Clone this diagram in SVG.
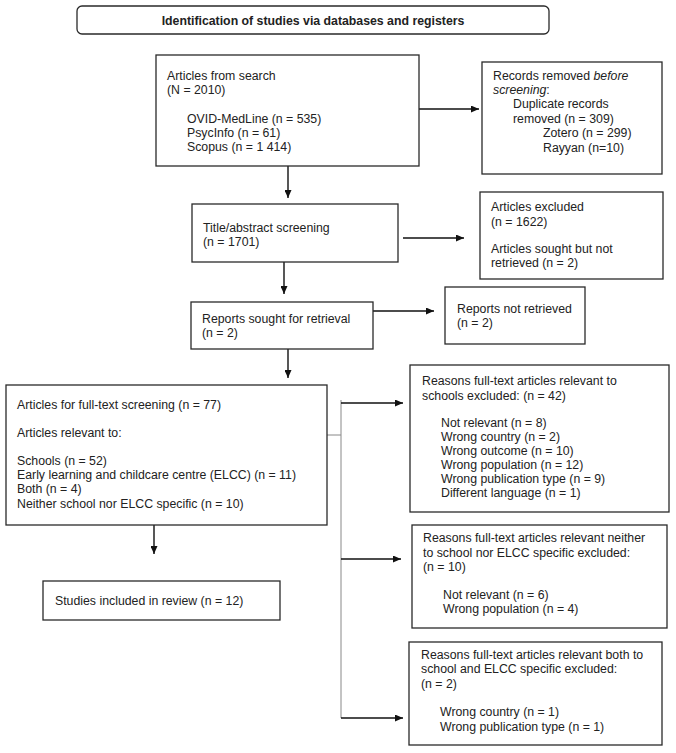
<svg xmlns="http://www.w3.org/2000/svg" width="676" height="753" viewBox="0 0 676 753">
<style>
  .box { fill: #ffffff; stroke: #2a2a2a; stroke-width: 1.3; }
  .t { font-family: "Liberation Sans", Arial, sans-serif; font-size: 12.3px; fill: #222; }
  .b { font-weight: bold; }
  .i { font-style: italic; }
  .con { stroke: #111; stroke-width: 1.4; fill: none; }
  .thin { stroke: #888; stroke-width: 1; fill: none; }
</style>
<defs>
  <marker id="ah" markerWidth="8" markerHeight="7" refX="8" refY="3.5" orient="auto" markerUnits="userSpaceOnUse">
    <path d="M0,0 L8,3.5 L0,7 z" fill="#111"/>
  </marker>
</defs>
<rect width="676" height="753" fill="#ffffff"/>

<g id="connectors">
  <path class="con" d="M419,109 H479" marker-end="url(#ah)"/>
  <path class="con" d="M288,166 V198" marker-end="url(#ah)"/>
  <path class="con" d="M403,238 H464" marker-end="url(#ah)"/>
  <path class="con" d="M284,262 V294" marker-end="url(#ah)"/>
  <path class="con" d="M373,311 H434" marker-end="url(#ah)"/>
  <path class="con" d="M288,349 V378" marker-end="url(#ah)"/>
  <path class="thin" d="M327,435 H341"/>
  <path class="thin" d="M341,400 V718"/>
  <path class="con" d="M341,403 H403" marker-end="url(#ah)"/>
  <path class="con" d="M341,559 H401" marker-end="url(#ah)"/>
  <path class="con" d="M341,718 H403" marker-end="url(#ah)"/>
  <path class="con" d="M154,525 V554" marker-end="url(#ah)"/>
</g>

<g id="title">
  <rect class="box" x="77" y="6" width="472" height="28" rx="5"/>
  <text class="t b" x="313" y="25" text-anchor="middle">Identification of studies via databases and registers</text>
</g>

<g id="search">
  <rect class="box" x="156" y="55" width="263" height="111"/>
  <text class="t" x="167" y="80">Articles from search</text>
  <text class="t" x="167" y="94">(N = 2010)</text>
  <text class="t" x="187" y="123">OVID-MedLine (n = 535)</text>
  <text class="t" x="187" y="137">PsycInfo (n = 61)</text>
  <text class="t" x="187" y="151">Scopus (n = 1 414)</text>
</g>

<g id="removed">
  <rect class="box" x="482" y="62" width="180" height="112"/>
  <text class="t" x="493" y="80">Records removed <tspan class="i">before</tspan></text>
  <text class="t" x="493" y="94"><tspan class="i">screening</tspan>:</text>
  <text class="t" x="513" y="108">Duplicate records</text>
  <text class="t" x="513" y="123">removed (n = 309)</text>
  <text class="t" x="543" y="137">Zotero (n = 299)</text>
  <text class="t" x="543" y="152">Rayyan (n=10)</text>
</g>

<g id="screening">
  <rect class="box" x="192" y="204" width="206" height="58"/>
  <text class="t" x="203" y="232">Title/abstract screening</text>
  <text class="t" x="203" y="246">(n = 1701)</text>
</g>

<g id="excluded">
  <rect class="box" x="480" y="192" width="183" height="87"/>
  <text class="t" x="491" y="211">Articles excluded</text>
  <text class="t" x="491" y="226">(n = 1622)</text>
  <text class="t" x="491" y="253">Articles sought but not</text>
  <text class="t" x="491" y="267">retrieved (n = 2)</text>
</g>

<g id="sought">
  <rect class="box" x="191" y="302" width="182" height="47"/>
  <text class="t" x="202" y="323">Reports sought for retrieval</text>
  <text class="t" x="202" y="337">(n = 2)</text>
</g>

<g id="notretrieved">
  <rect class="box" x="445" y="287" width="140" height="57"/>
  <text class="t" x="457" y="313">Reports not retrieved</text>
  <text class="t" x="457" y="327">(n = 2)</text>
</g>

<g id="fulltext">
  <rect class="box" x="6" y="385" width="321" height="140"/>
  <text class="t" x="17" y="409">Articles for full-text screening (n = 77)</text>
  <text class="t" x="17" y="437">Articles relevant to:</text>
  <text class="t" x="17" y="465">Schools (n = 52)</text>
  <text class="t" x="17" y="479">Early learning and childcare centre (ELCC) (n = 11)</text>
  <text class="t" x="17" y="493">Both (n = 4)</text>
  <text class="t" x="17" y="508">Neither school nor ELCC specific (n = 10)</text>
</g>

<g id="included">
  <rect class="box" x="43" y="581" width="237" height="39"/>
  <text class="t" x="55" y="605">Studies included in review (n = 12)</text>
</g>

<g id="reasons-schools">
  <rect class="box" x="410" y="365" width="259" height="147"/>
  <text class="t" x="422" y="385">Reasons full-text articles relevant to</text>
  <text class="t" x="422" y="400">schools excluded: (n = 42)</text>
  <text class="t" x="441" y="427">Not relevant (n = 8)</text>
  <text class="t" x="441" y="441">Wrong country (n = 2)</text>
  <text class="t" x="441" y="455">Wrong outcome (n = 10)</text>
  <text class="t" x="441" y="469">Wrong population (n = 12)</text>
  <text class="t" x="441" y="483">Wrong publication type (n = 9)</text>
  <text class="t" x="441" y="497">Different language (n = 1)</text>
</g>

<g id="reasons-neither">
  <rect class="box" x="412" y="525" width="255" height="103"/>
  <text class="t" x="423" y="542">Reasons full-text articles relevant neither</text>
  <text class="t" x="423" y="557">to school nor ELCC specific excluded:</text>
  <text class="t" x="423" y="571">(n = 10)</text>
  <text class="t" x="443" y="599">Not relevant (n = 6)</text>
  <text class="t" x="443" y="613">Wrong population (n = 4)</text>
</g>

<g id="reasons-both">
  <rect class="box" x="409" y="642" width="253" height="103"/>
  <text class="t" x="421" y="659">Reasons full-text articles relevant both to</text>
  <text class="t" x="421" y="673">school and ELCC specific excluded:</text>
  <text class="t" x="421" y="688">(n = 2)</text>
  <text class="t" x="440" y="716">Wrong country (n = 1)</text>
  <text class="t" x="440" y="731">Wrong publication type (n = 1)</text>
</g>
</svg>
